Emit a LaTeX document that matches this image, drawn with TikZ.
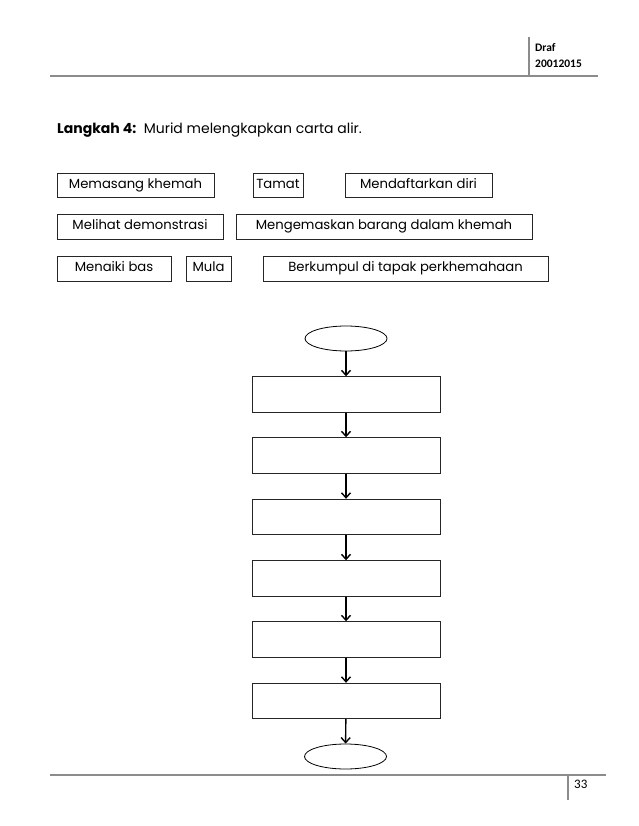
\documentclass[tikz,border=0pt]{standalone}
\usepackage{fontspec}
\setmainfont{Poppins}
\newfontfamily\calib{Carlito}
\usetikzlibrary{arrows.meta,shapes.geometric}
\begin{document}
\begin{tikzpicture}[x=1pt,y=-1pt,
  rule/.style={draw=gray!90, line width=1.8pt},
  word/.style={draw=black!85, line width=0.8pt, rectangle, inner sep=0pt, text height=9pt, text depth=2.5pt, font=\fontsize{13.2}{15}\selectfont},
  stepbox/.style={draw=black!85, line width=0.9pt, rectangle, minimum width=188pt, minimum height=35.5pt, inner sep=0pt},
  term/.style={draw=black, line width=0.8pt, ellipse, minimum width=82pt, minimum height=25pt, inner sep=0pt},
  flow/.style={draw=black, line width=1.4pt, -{Straight Barb[length=5pt,width=9pt,line width=1.4pt]}}
]
\useasboundingbox (0,0) rectangle (638,826);
% header
\draw[rule] (50,76) -- (598,76);
\draw[rule] (529,37) -- (529,76);
\node[anchor=west, inner sep=0pt, font=\calib\bfseries\fontsize{11.5}{13}\selectfont] (h1) at (535,48) {Draf};
\node[anchor=west, inner sep=0pt, font=\calib\bfseries\fontsize{11.5}{13}\selectfont] (h2) at (535,64) {20012015};
% instruction
\node[anchor=west, inner sep=0pt, font=\fontsize{14}{16}\selectfont] (ins) at (57,130) {\textbf{Langkah 4:}\ \ Murid melengkapkan carta alir.};
% word boxes
\node[word, minimum width=157pt, minimum height=24pt] (w1) at (135.5,185) {Memasang khemah};
\node[word, minimum width=50pt, minimum height=24pt] (w2) at (278,185) {Tamat};
\node[word, minimum width=147pt, minimum height=24pt] (w3) at (418.5,185) {Mendaftarkan diri};
\node[word, minimum width=166pt, minimum height=25pt] (w4) at (140,226.5) {Melihat demonstrasi};
\node[word, minimum width=296pt, minimum height=25pt] (w5) at (384,226.5) {Mengemaskan barang dalam khemah};
\node[word, minimum width=114pt, minimum height=25pt] (w6) at (114,268.5) {Menaiki bas};
\node[word, minimum width=45pt, minimum height=25pt] (w7) at (208.5,268.5) {Mula};
\node[word, minimum width=285pt, minimum height=25pt] (w8) at (405.5,268.5) {Berkumpul di tapak perkhemahaan};
% flowchart
\node[term] (s) at (346,338.5) {};
\node[stepbox] (b1) at (346,394.5) {};
\node[stepbox] (b2) at (346,455.5) {};
\node[stepbox] (b3) at (346,517) {};
\node[stepbox] (b4) at (346,578.5) {};
\node[stepbox] (b5) at (346,639.5) {};
\node[stepbox] (b6) at (346,701) {};
\node[term] (e) at (345.5,756.5) {};
\draw[flow] (s) -- (b1);
\draw[flow] (b1) -- (b2);
\draw[flow] (b2) -- (b3);
\draw[flow] (b3) -- (b4);
\draw[flow] (b4) -- (b5);
\draw[flow] (b5) -- (b6);
\draw[flow] (b6) -- (e);
% footer
\draw[rule, line width=1.5pt] (50,775) -- (606,775);
\draw[rule, line width=1.5pt] (568,775) -- (568,800);
\node[anchor=west, inner sep=0pt, font=\calib\fontsize{13}{15}\selectfont] (pg) at (574,784) {33};
\end{tikzpicture}
\end{document}
